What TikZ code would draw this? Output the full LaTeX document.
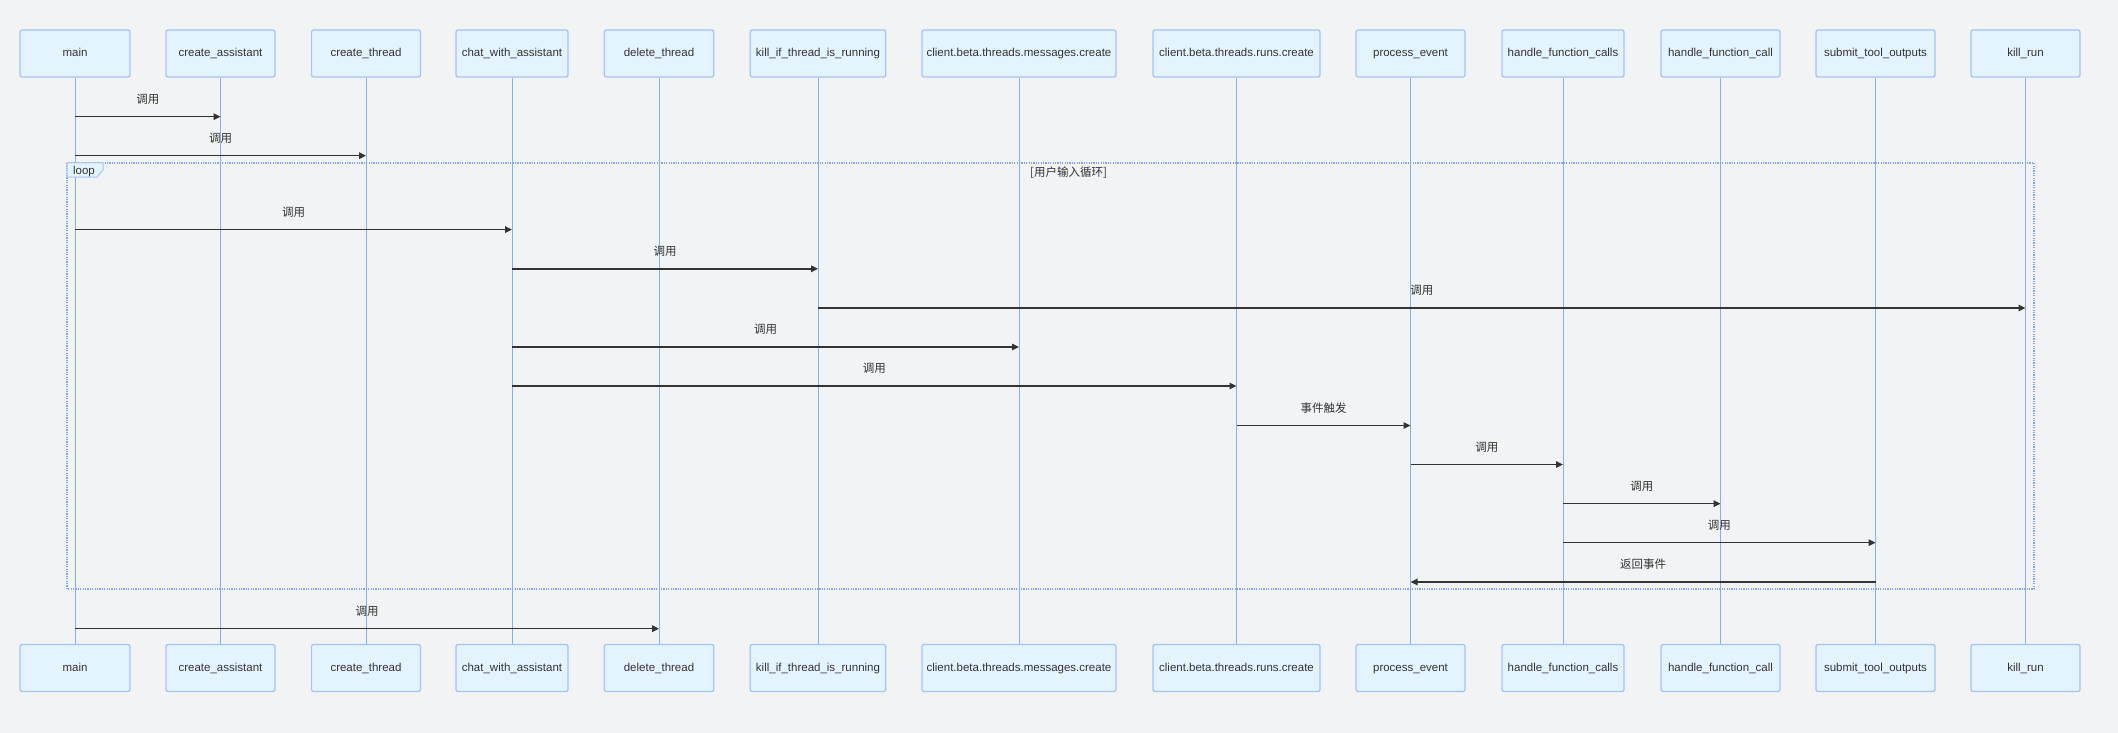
\documentclass[tikz,border=0pt]{standalone}
\usepackage{fontspec}
\setmainfont{Liberation Sans}
\newfontfamily\cjk{Noto Sans CJK SC}
\usetikzlibrary{arrows.meta}
\definecolor{bgc}{HTML}{F2F3F5}
\definecolor{actorfill}{HTML}{E4F4FE}
\definecolor{actorline}{HTML}{A3C4FA}
\definecolor{lifec}{HTML}{86AEF6}
\definecolor{loopc}{HTML}{7EA4F2}
\definecolor{ink}{HTML}{333333}

\begin{document}
\begin{tikzpicture}[x=1pt,y=-1pt,line width=1pt,>={Triangle[length=7pt,width=6.5pt]},
  actor/.style={draw=actorline,fill=actorfill,rounded corners=2pt,line width=1.3pt,minimum height=47pt,inner sep=0pt,text height=8.5pt,text depth=2.5pt,text=ink,font=\fontsize{11.5}{13}\selectfont},
  life/.style={draw=lifec,line width=1pt},
  msg/.style={->,draw=ink,line width=1.5pt},
  lbl/.style={font=\cjk\fontsize{11.5}{13}\selectfont,text=ink,yshift=17.5pt}]
  \fill[bgc] (0,0) rectangle (2118,733);
  % participants, top row
  \node[actor,minimum width=110pt] (main) at (75,53.5){main};
  \node[actor,minimum width=109pt] (ca) at (220.5,53.5){create\_assistant};
  \node[actor,minimum width=109pt] (ct) at (366,53.5){create\_thread};
  \node[actor,minimum width=112pt] (chat) at (512,53.5){chat\_with\_assistant};
  \node[actor,minimum width=109.5pt] (del) at (659,53.5){delete\_thread};
  \node[actor,minimum width=135.5pt] (kif) at (818,53.5){kill\_if\_thread\_is\_running};
  \node[actor,minimum width=194pt] (mc) at (1019,53.5){client.beta.threads.messages.create};
  \node[actor,minimum width=167pt] (rc) at (1236.5,53.5){client.beta.threads.runs.create};
  \node[actor,minimum width=109pt] (pe) at (1410.5,53.5){process\_event};
  \node[actor,minimum width=122pt] (hfs) at (1563,53.5){handle\_function\_calls};
  \node[actor,minimum width=119pt] (hf) at (1720.5,53.5){handle\_function\_call};
  \node[actor,minimum width=119pt] (sto) at (1875.5,53.5){submit\_tool\_outputs};
  \node[actor,minimum width=109pt] (kr) at (2025.5,53.5){kill\_run};
  % participants, bottom row
  \node[actor,minimum width=110pt] (mainB) at (75,668){main};
  \node[actor,minimum width=109pt] (caB) at (220.5,668){create\_assistant};
  \node[actor,minimum width=109pt] (ctB) at (366,668){create\_thread};
  \node[actor,minimum width=112pt] (chatB) at (512,668){chat\_with\_assistant};
  \node[actor,minimum width=109.5pt] (delB) at (659,668){delete\_thread};
  \node[actor,minimum width=135.5pt] (kifB) at (818,668){kill\_if\_thread\_is\_running};
  \node[actor,minimum width=194pt] (mcB) at (1019,668){client.beta.threads.messages.create};
  \node[actor,minimum width=167pt] (rcB) at (1236.5,668){client.beta.threads.runs.create};
  \node[actor,minimum width=109pt] (peB) at (1410.5,668){process\_event};
  \node[actor,minimum width=122pt] (hfsB) at (1563,668){handle\_function\_calls};
  \node[actor,minimum width=119pt] (hfB) at (1720.5,668){handle\_function\_call};
  \node[actor,minimum width=119pt] (stoB) at (1875.5,668){submit\_tool\_outputs};
  \node[actor,minimum width=109pt] (krB) at (2025.5,668){kill\_run};
  % lifelines
  \draw[life] (main) -- (mainB);
  \draw[life] (ca) -- (caB);
  \draw[life] (ct) -- (ctB);
  \draw[life] (chat) -- (chatB);
  \draw[life] (del) -- (delB);
  \draw[life] (kif) -- (kifB);
  \draw[life] (mc) -- (mcB);
  \draw[life] (rc) -- (rcB);
  \draw[life] (pe) -- (peB);
  \draw[life] (hfs) -- (hfsB);
  \draw[life] (hf) -- (hfB);
  \draw[life] (sto) -- (stoB);
  \draw[life] (kr) -- (krB);
  % loop frame
  \draw[loopc,line width=1.4pt,dash pattern=on 1.2pt off 1.2pt] (67,163) rectangle (2034,589);
  \draw[fill=actorfill,draw=actorline,line width=1pt] (67,163) -- (103,163) -- (103,170) -- (97,177) -- (67,177) -- cycle;
  \node[text=ink,font=\fontsize{11.5}{13}\selectfont,text height=8pt,text depth=0pt] (looplbl) at (84,170.5){loop};
  \node[lbl,yshift=-17.5pt] (cond) at (1068.5,173){[用户输入循环]};
  % messages
  \draw[msg] (main |- 0,116.7) -- (ca |- 0,116.7) node[lbl,midway]{调用};
  \draw[msg] (main |- 0,155.7) -- (ct |- 0,155.7) node[lbl,midway]{调用};
  \draw[msg] (main |- 0,229.6) -- (chat |- 0,229.6) node[lbl,midway]{调用};
  \draw[msg] (chat |- 0,268.8) -- (kif |- 0,268.8) node[lbl,midway]{调用};
  \draw[msg] (kif |- 0,308) -- (kr |- 0,308) node[lbl,midway]{调用};
  \draw[msg] (chat |- 0,347) -- (mc |- 0,347) node[lbl,midway]{调用};
  \draw[msg] (chat |- 0,386) -- (rc |- 0,386) node[lbl,midway]{调用};
  \draw[msg] (rc |- 0,425.5) -- (pe |- 0,425.5) node[lbl,midway]{事件触发};
  \draw[msg] (pe |- 0,464.5) -- (hfs |- 0,464.5) node[lbl,midway]{调用};
  \draw[msg] (hfs |- 0,503.7) -- (hf |- 0,503.7) node[lbl,midway]{调用};
  \draw[msg] (hfs |- 0,542.7) -- (sto |- 0,542.7) node[lbl,midway]{调用};
  \draw[msg] (sto |- 0,582) -- (pe |- 0,582) node[lbl,midway]{返回事件};
  \draw[msg] (main |- 0,628.7) -- (del |- 0,628.7) node[lbl,midway]{调用};
\end{tikzpicture}
\end{document}
